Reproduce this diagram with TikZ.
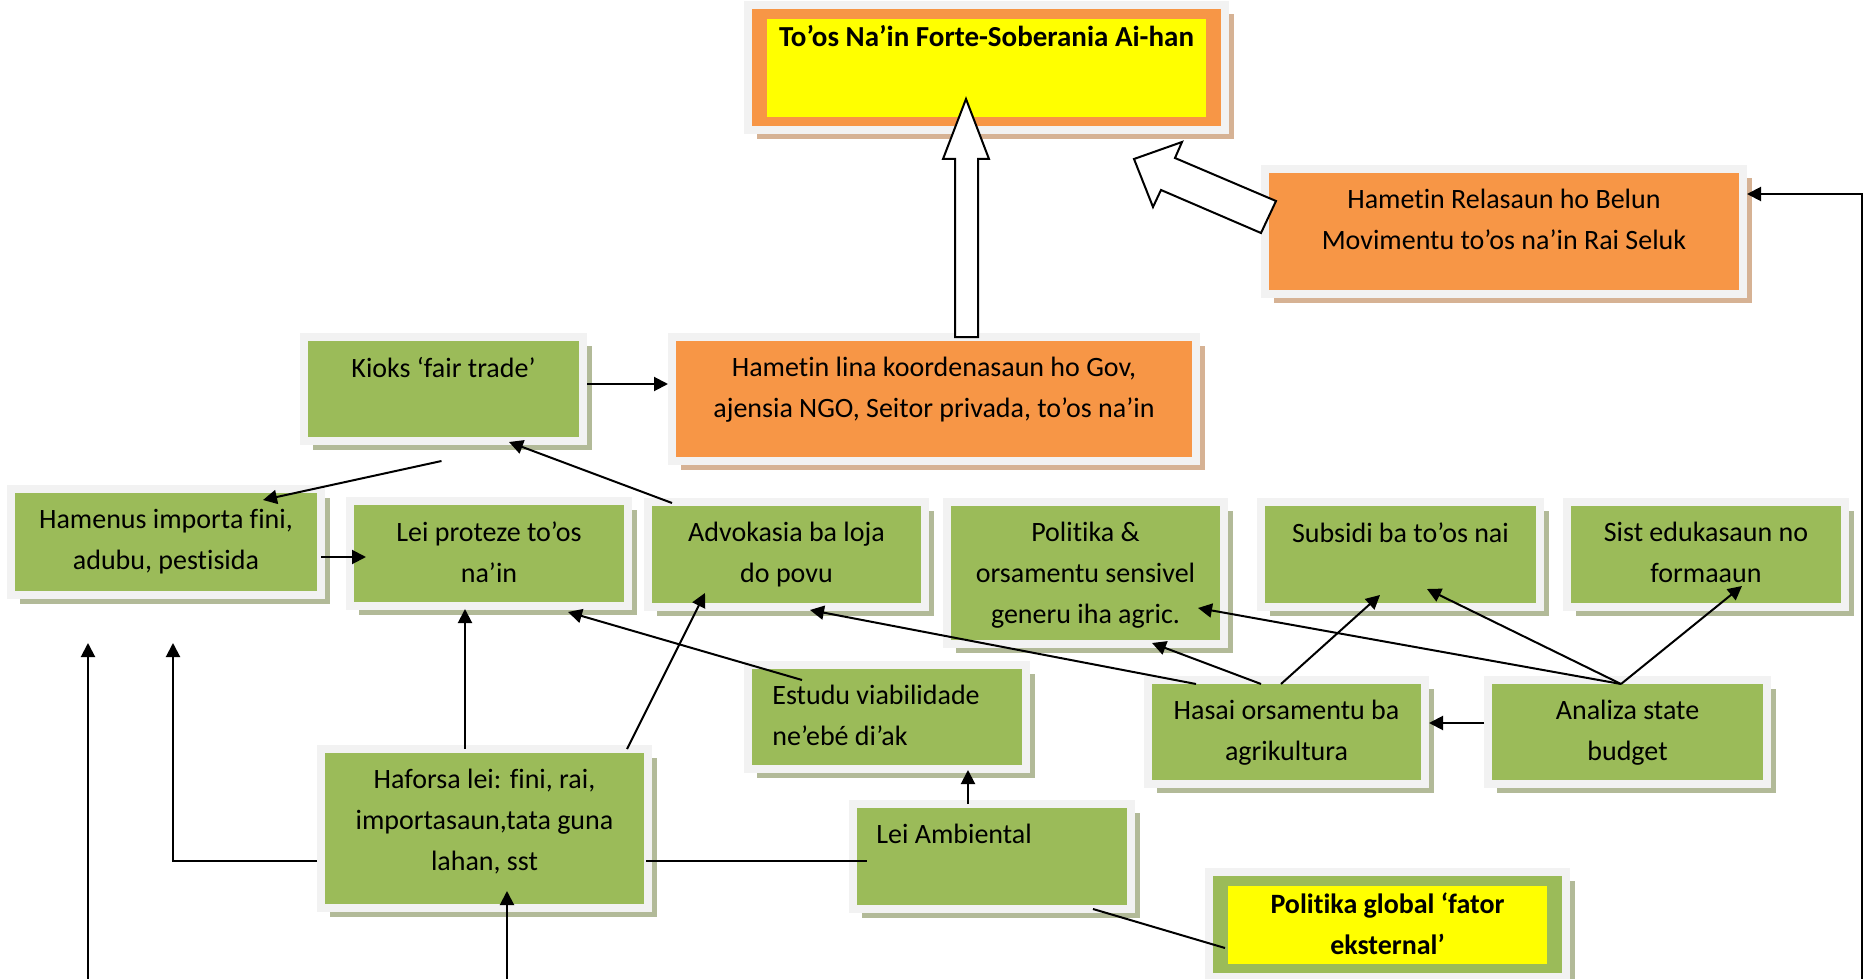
\documentclass[tikz,border=0pt]{standalone}
\usepackage{fontspec}
\setmainfont{Carlito}[Ligatures=NoCommon]
\usepackage{tikz}
\usetikzlibrary{arrows.meta,shadows}
\definecolor{boxgreen}{RGB}{155,187,89}
\definecolor{boxorange}{RGB}{247,150,70}
\definecolor{boxyellow}{RGB}{255,255,0}
\definecolor{framegray}{RGB}{242,242,242}
\definecolor{greenshade}{RGB}{178,186,152}
\definecolor{orangeshade}{RGB}{214,178,148}

\begin{document}
\begin{tikzpicture}[x=0.5pt, y=-0.5pt, line join=miter,
        framebox/.style={shape=rectangle, draw=framegray, line width=4pt, inner sep=0pt},
        greenbox/.style={framebox, fill=boxgreen, drop shadow={shadow xshift=4.5pt, shadow yshift=-4.5pt, fill=greenshade, opacity=1}},
        orangebox/.style={framebox, fill=boxorange, drop shadow={shadow xshift=4.5pt, shadow yshift=-4.5pt, fill=orangeshade, opacity=1}},
        yellowcore/.style={path picture={\fill[boxyellow] ([shift={(9.5pt,-7pt)}]path picture bounding box.north west) rectangle ([shift={(-9.5pt,6.5pt)}]path picture bounding box.south east);}},
        boxtext/.style={anchor=north, align=center, inner sep=0pt, yshift=-12pt, font=\fontsize{14pt}{20.5pt}\selectfont},
        boldtext/.style={boxtext, font=\fontsize{14pt}{20.5pt}\selectfont\bfseries},
        lefttext/.style={boxtext, anchor=north west, align=left, xshift=14pt},
        conn/.style={line width=1pt, -{Triangle[length=7pt, width=7pt]}},
        plainline/.style={line width=1pt},
        hollowarrow/.style={draw=black, fill=white, line width=1pt}]
        \useasboundingbox (0,0) rectangle (1865,979);
        % Boxes
        \node[orangebox, yellowcore, minimum width=238.5pt, minimum height=62.5pt, label={[boldtext, font=\fontsize{14.5pt}{20.5pt}\selectfont\bfseries]north:{To’os Na’in Forte-Soberania Ai-han}}] (soberania) at (986.5,67.5) {};
        \node[orangebox, minimum width=239pt, minimum height=62.5pt, label={[boxtext]north:{Hametin Relasaun ho Belun\\Movimentu to’os na’in Rai Seluk}}] (relasaun) at (1504,231.5) {};
        \node[orangebox, minimum width=262pt, minimum height=62pt, label={[boxtext]north:{Hametin lina koordenasaun ho Gov,\\ajensia NGO, Seitor privada, to’os na’in}}] (lina) at (934,399) {};
        \node[greenbox, minimum width=139.5pt, minimum height=52pt, label={[boxtext]north:{Kioks ‘fair trade’}}] (kioks) at (443.5,389) {};
        \node[greenbox, minimum width=155pt, minimum height=53pt, label={[boxtext]north:{Hamenus importa fini,\\adubu, pestisida}}] (hamenus) at (166,542) {};
        \node[greenbox, minimum width=139pt, minimum height=52.5pt, label={[boxtext]north:{Lei proteze to’os\\na’in}}] (leiproteze) at (489,553.5) {};
        \node[greenbox, minimum width=138.5pt, minimum height=52.5pt, label={[boxtext]north:{Advokasia ba loja\\do povu}}] (advokasia) at (786.5,554.5) {};
        \node[greenbox, minimum width=138.5pt, minimum height=71pt, label={[boxtext]north:{Politika \&\\orsamentu sensivel\\generu iha agric.}}] (politika) at (1085.5,573) {};
        \node[greenbox, minimum width=139.5pt, minimum height=52.5pt, label={[boxtext]north:{Subsidi ba to’os nai}}] (subsidi) at (1400.5,554.5) {};
        \node[greenbox, minimum width=139pt, minimum height=52.5pt, label={[boxtext]north:{Sist edukasaun no\\formaaun}}] (sist) at (1706,554.5) {};
        \node[greenbox, minimum width=139pt, minimum height=52pt, label={[lefttext]north west:{Estudu viabilidade\\ne’ebé di’ak}}] (estudu) at (887,717) {};
        \node[greenbox, minimum width=138.5pt, minimum height=52pt, label={[boxtext]north:{Hasai orsamentu ba\\agrikultura}}] (hasai) at (1286.5,732) {};
        \node[greenbox, minimum width=139.5pt, minimum height=52pt, label={[boxtext]north:{Analiza state\\budget}}] (analiza) at (1627.5,732) {};
        \node[greenbox, minimum width=163.5pt, minimum height=79.5pt, label={[boxtext]north:{Haforsa lei: fini, rai,\\importasaun,tata guna\\lahan, sst}}] (haforsa) at (484.5,828.5) {};
        \node[greenbox, minimum width=139pt, minimum height=52.5pt, label={[lefttext, xshift=-0.5pt]north west:{Lei Ambiental}}] (leiambiental) at (992,856.5) {};
        \node[greenbox, yellowcore, minimum width=178.5pt, minimum height=52.5pt, label={[boldtext]north:{Politika global ‘fator\\eksternal’}}] (global) at (1387.5,924.5) {};
        % Free ends
        \coordinate (farleft) at (88,979);
        \coordinate (farlefttip) at (88,643);
        \coordinate (hamenustip) at (173,643);
        \coordinate (haforsabase) at (507,979);
        \coordinate (rightbase) at (1862,979);
        % Arrows
        \draw[conn] ([yshift=2.5pt]kioks.east) -- ([yshift=2.5pt]kioks.east -| lina.west);
        \draw[conn] ([shift={(-2,16)}]kioks.south) -- ([shift={(97,15)}]hamenus.north);
        \draw[conn] ([shift={(-4,15)}]hamenus.east) -- ([shift={(20,3.5)}]leiproteze.west);
        \draw[conn] ([shift={(-114.5,5)}]advokasia.north) -- ([shift={(65.5,-3)}]kioks.south);
        \draw[conn] ([shift={(-24,4)}]leiambiental.north) -- ([shift={(81,-3)}]estudu.south);
        \draw[conn] ([shift={(-19.5,4)}]haforsa.north) -- ([shift={(-24,-1)}]leiproteze.south);
        \draw[conn] ([shift={(142.5,4)}]haforsa.north) -- ([shift={(-81.5,-18)}]advokasia.south);
        \draw[conn] ([shift={(-85,19)}]estudu.north) -- ([shift={(79,2)}]leiproteze.south);
        \draw[conn] ([shift={(-90.5,8)}]hasai.north) -- ([shift={(23.5,-1)}]advokasia.south);
        \draw[conn] ([shift={(-25.5,8)}]hasai.north) -- ([shift={(66.5,-5)}]politika.south);
        \draw[conn] ([shift={(-5.5,8)}]hasai.north) -- ([shift={(-20.5,-16)}]subsidi.south);
        \draw[conn] ([yshift=4.5pt]analiza.west) -- ([yshift=4.5pt]hasai.east);
        \foreach \target/\dx/\dy in {politika.east/-30/35, subsidi.south/26.5/-22, sist.south/36/-25} {
          \draw[conn] ([shift={(-6.5,8)}]analiza.north) -- ([shift={(\dx,\dy)}]\target);
        }
        \draw[conn] ([yshift=-16.25pt]haforsa.west) -| (hamenustip);
        \draw[conn] (farleft) -- (farlefttip);
        \draw[conn] (haforsabase) -- ([shift={(22.5,-21)}]haforsa.south);
        \draw[conn] (rightbase) |- ([yshift=18.75pt]relasaun.east);
        % Lines
        \draw[plainline] ([shift={(-6,32.5)}]haforsa.east) -- ([shift={(18,4.5)}]leiambiental.west);
        \draw[plainline] ([shift={(101,-4)}]leiambiental.south) -- ([shift={(20,23.5)}]global.west);
        % Block arrows
        \draw[hollowarrow] ([shift={(21,4)}]lina.north) -- ++(0,-178) -- ++(-12,0) -- ++(23,-60) -- ++(23,60) -- ++(-11,0) -- ++(0,178) -- cycle;
        \draw[hollowarrow] ([shift={(0,1.5)}]relasaun.west) -- ++(-100,-43) -- ++(-8,17) -- ++(-19,-48) -- ++(48,-17) -- ++(-7,16) -- ++(101,43) -- cycle;
\end{tikzpicture}
\end{document}
